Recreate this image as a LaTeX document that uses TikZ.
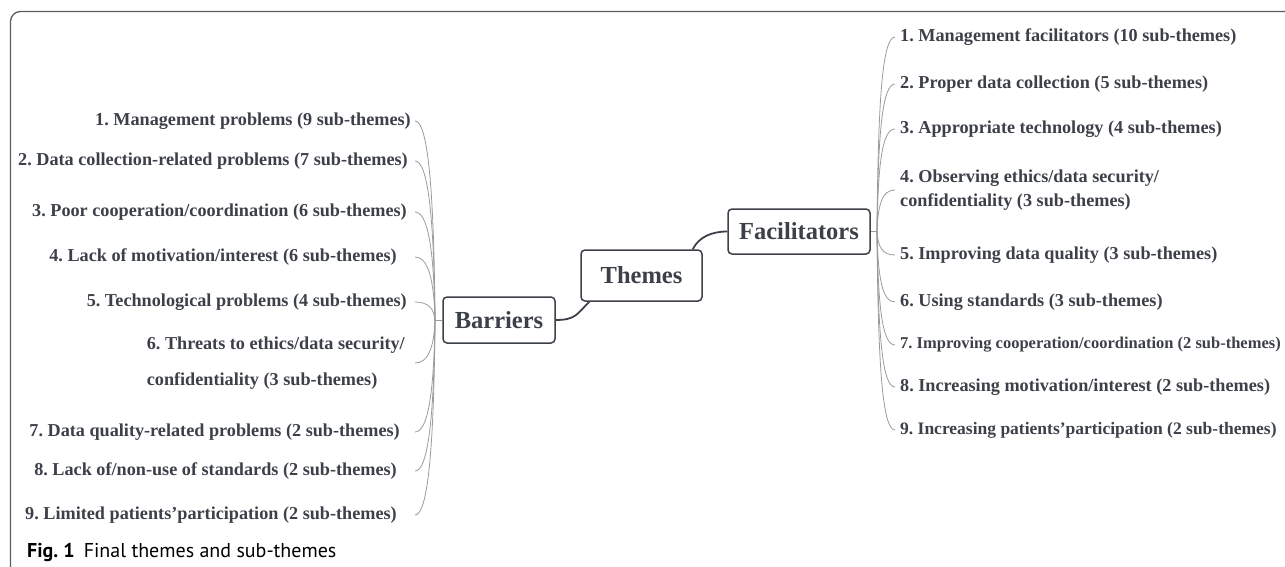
\documentclass[tikz,border=0pt]{standalone}
\usepackage{fontspec}
\setmainfont{Liberation Serif}
\newfontfamily\capfont{PT Sans}
\usetikzlibrary{calc}
\frenchspacing
\definecolor{ink}{RGB}{60,64,72}
\definecolor{twiggray}{RGB}{155,155,155}
\tikzset{
  topic/.style={draw=ink, line width=1.5pt, rounded corners=4pt, inner sep=0pt,
    text=ink, font=\fontsize{24.5}{28}\selectfont\bfseries},
  item/.style={inner sep=0pt, text=ink, align=left,
    font=\fontsize{18.2}{22}\selectfont\bfseries},
  twig/.style={draw=twiggray, line width=0.8pt},
  limb/.style={draw=ink, line width=1.8pt}
}
\begin{document}
\begin{tikzpicture}[x=1pt,y=-1pt]
  \useasboundingbox (0,0) rectangle (1285,567);
  \draw[ink!85, line width=1.3pt, rounded corners=10pt] (10.5,567) |- (1285,11.5);

  \node[topic, minimum width=121pt, minimum height=51pt] (themes) at (641.5,275.5) {Themes};
  \node[topic, minimum width=112pt, minimum height=46pt] (barriers) at (499,320) {Barriers};
  \node[topic, minimum width=142pt, minimum height=45pt] (facil) at (799,231.5) {Facilitators};

  \draw[limb] (barriers.east) .. controls +(20pt,0pt) and +(-12pt,-12pt) .. ([xshift=9pt]themes.south west);
  \draw[limb] ([xshift=-10pt]themes.north east) .. controls +(6pt,12pt) and +(-16pt,0pt) .. (facil.west);

  \coordinate (bj) at (435,320);
  \coordinate (bs) at (415,0);
  \coordinate (fj) at (877,231.5);
  \coordinate (fs) at (895,0);
  \draw[twig] (bj) -- (barriers.west);
  \draw[twig] (facil.east) -- (fj);

  \foreach \i/\rx/\y/\txt in {
    1/411/121/{1. Management problems (9 sub-themes)},
    2/408/161/{2. Data collection-related problems (7 sub-themes)},
    3/407/212/{3. Poor cooperation/coordination (6 sub-themes)},
    4/397/257/{4. Lack of motivation/interest (6 sub-themes)},
    5/407/302/{5. Technological problems (4 sub-themes)},
    6/405/363/{6. Threats to ethics/data security/\\[14pt]confidentiality (3 sub-themes)},
    7/400/432/{7. Data quality-related problems (2 sub-themes)},
    8/397/471/{8. Lack of/non-use of standards (2 sub-themes)},
    9/397/515/{9. Limited patients'participation (2 sub-themes)}}{
    \node[item, anchor=east] (b\i) at (\rx,\y) {\txt};
    \draw[twig] let \p1=(b\i.east -| bs), \p2=(bj) in
      (\p1) .. controls (\x1+13pt,\y1) and (\x2-1pt,{\y1+0.35*(\y2-\y1)}) .. (\p2);
  }

  \foreach \i/\y/\txt in {
    1/37/{1. Management facilitators (10 sub-themes)},
    2/84/{2. Proper data collection (5 sub-themes)},
    3/129/{3. Appropriate technology (4 sub-themes)},
    4/190/{4. Observing ethics/data security/\\[1.5pt]confidentiality (3 sub-themes)},
    5/255/{5. Improving data quality (3 sub-themes)},
    6/302/{6. Using standards (3 sub-themes)},
    7/345/{\fontsize{16.5}{20}\selectfont 7. Improving cooperation/coordination (2 sub-themes)},
    8/387/{8. Increasing motivation/interest (2 sub-themes)},
    9/430/{\fontsize{17.5}{21}\selectfont 9. Increasing patients'participation (2 sub-themes)}}{
    \node[item, anchor=west] (f\i) at (900,\y) {\txt};
    \draw[twig] let \p1=(fj), \p2=(f\i.west -| fs) in
      (\p1) .. controls (\x1+1pt,{\y2+0.35*(\y1-\y2)}) and (\x2-13pt,\y2) .. (\p2);
  }

  \node[anchor=base west, inner sep=0pt, font=\capfont\fontsize{20}{23}\selectfont] (caption) at (27,557)
    {\textbf{Fig. 1}\hspace{9pt}Final themes and sub-themes};
\end{tikzpicture}
\end{document}
